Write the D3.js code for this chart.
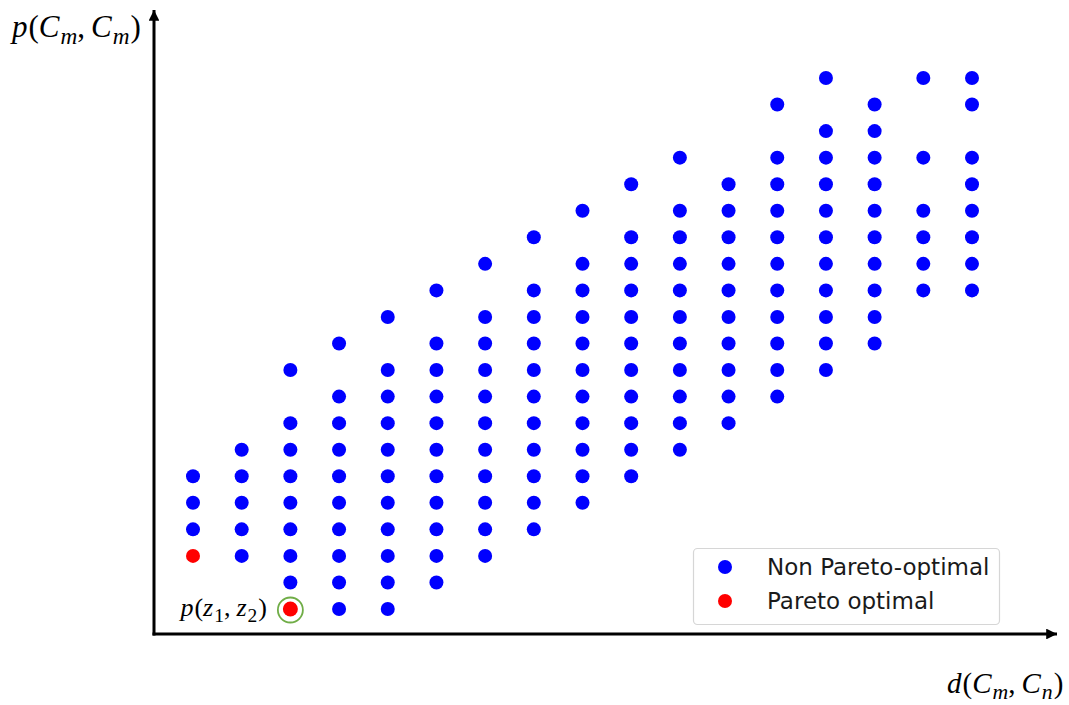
<!DOCTYPE html>
<html>
<head>
<meta charset="utf-8">
<script src="https://cdn.jsdelivr.net/npm/d3@7"></script>
<style>
  html, body { margin: 0; padding: 0; background: #fff; }
  svg { display: block; }
</style>
</head>
<body>
<svg id="chart" width="1069" height="705"></svg>
<script>
// ---- data ----
// column index on the d(Cm,Cn) axis (0..16)
const columns = [0, 1, 2, 3, 4, 5, 6, 7, 8, 9, 10, 11, 12, 13, 14, 15, 16];
// row indices (p(Cm,Cm) level, 0..20) of non Pareto-optimal points in each column
const nonParetoRows = [
  [3, 4, 5],
  [2, 3, 4, 5, 6],
  [1, 2, 3, 4, 5, 6, 7, 9],
  [0, 1, 2, 3, 4, 5, 6, 7, 8, 10],
  [0, 1, 2, 3, 4, 5, 6, 7, 8, 9, 11],
  [1, 2, 3, 4, 5, 6, 7, 8, 9, 10, 12],
  [2, 3, 4, 5, 6, 7, 8, 9, 10, 11, 13],
  [3, 4, 5, 6, 7, 8, 9, 10, 11, 12, 14],
  [4, 5, 6, 7, 8, 9, 10, 11, 12, 13, 15],
  [5, 6, 7, 8, 9, 10, 11, 12, 13, 14, 16],
  [6, 7, 8, 9, 10, 11, 12, 13, 14, 15, 17],
  [7, 8, 9, 10, 11, 12, 13, 14, 15, 16],
  [8, 9, 10, 11, 12, 13, 14, 15, 16, 17, 19],
  [9, 10, 11, 12, 13, 14, 15, 16, 17, 18, 20],
  [10, 11, 12, 13, 14, 15, 16, 17, 18, 19],
  [12, 13, 14, 15, 17, 20],
  [12, 13, 14, 15, 16, 17, 19, 20]
];
// Pareto optimal points: [column, row]
const paretoX = [0, 2];
const paretoY = [2, 0];
const highlighted = [false, true];   // p(z1,z2) marked point
const legendLabels = ["Non Pareto-optimal", "Pareto optimal"];
const colors = ["#0000ff", "#ff0000"];

// ---- build ----
const nonPareto = [];
columns.forEach((c, i) => nonParetoRows[i].forEach(r => nonPareto.push({x: c, y: r})));
const pareto = paretoX.map((x, i) => ({x, y: paretoY[i], hl: highlighted[i]}));

const svg = d3.select("#chart");
const origin = {x: 154, y: 634};

const xScale = d3.scaleLinear().domain([0, 16]).range([193, 972]);
const yScale = d3.scaleLinear().domain([0, 20]).range([609, 78]);

// arrowheads
const defs = svg.append("defs");
defs.append("marker")
  .attr("id", "arrow")
  .attr("viewBox", "0 0 10 10")
  .attr("refX", 10).attr("refY", 5)
  .attr("markerWidth", 4).attr("markerHeight", 3.6)
  .attr("markerUnits", "strokeWidth")
  .attr("orient", "auto")
  .append("path")
  .attr("d", "M0,0 L10,5 L0,10 Z")
  .attr("fill", "#000");

// axes
svg.append("line")
  .attr("x1", origin.x - 1.5).attr("y1", origin.y)
  .attr("x2", 1057).attr("y2", origin.y)
  .attr("stroke", "#000").attr("stroke-width", 3)
  .attr("marker-end", "url(#arrow)");
svg.append("line")
  .attr("x1", origin.x).attr("y1", origin.y + 1.5)
  .attr("x2", origin.x).attr("y2", 10)
  .attr("stroke", "#000").attr("stroke-width", 3)
  .attr("marker-end", "url(#arrow)");

// points
svg.append("g").selectAll("circle")
  .data(nonPareto).join("circle")
  .attr("cx", d => xScale(d.x))
  .attr("cy", d => yScale(d.y))
  .attr("r", 7)
  .attr("fill", colors[0]);

svg.append("g").selectAll("circle")
  .data(pareto).join("circle")
  .attr("cx", d => xScale(d.x))
  .attr("cy", d => yScale(d.y))
  .attr("r", d => d.hl ? 7.5 : 7)
  .attr("fill", colors[1]);

// highlight ring
svg.append("g").selectAll("circle")
  .data(pareto.filter(d => d.hl)).join("circle")
  .attr("cx", d => xScale(d.x))
  .attr("cy", d => yScale(d.y) + 1)
  .attr("r", 12.5)
  .attr("fill", "none")
  .attr("stroke", "#70ad47")
  .attr("stroke-width", 1.8);

// math labels
const mathFont = "'Liberation Serif', 'DejaVu Serif', serif";
function mathLabel(x, y, size, parts) {
  const t = svg.append("text")
    .attr("x", x).attr("y", y)
    .attr("font-family", mathFont)
    .attr("font-size", size)
    .attr("fill", "#000");
  parts.forEach(p => {
    const ts = t.append("tspan").text(p.t);
    if (p.i) ts.attr("font-style", "italic");
    if (p.sub) ts.attr("font-size", size * 0.75).attr("dy", size * 0.22);
    if (p.up) ts.attr("dy", -size * 0.22);
    if (p.dx) ts.attr("dx", p.dx);
  });
  return t;
}
// y axis label p(Cm, Cm)
mathLabel(12, 37, 31, [
  {t: "p", i: true}, {t: "(", dx: 1}, {t: "C", i: true}, {t: "m", i: true, sub: true, dx: 1},
  {t: ",", up: true}, {t: "C", i: true, dx: 6}, {t: "m", i: true, sub: true, dx: 1}, {t: ")", up: true, dx: 1}
]);
// x axis label d(Cm, Cn)
mathLabel(947, 693, 29, [
  {t: "d", i: true}, {t: "(", dx: 1}, {t: "C", i: true}, {t: "m", i: true, sub: true, dx: 1},
  {t: ",", up: true}, {t: "C", i: true, dx: 6}, {t: "n", i: true, sub: true, dx: 1}, {t: ")", up: true, dx: 1}
]);
// point label p(z1, z2)
const hl = pareto.find(d => d.hl);
mathLabel(xScale(hl.x) - 110, yScale(hl.y) + 7, 26, [
  {t: "p", i: true}, {t: "(", dx: 1}, {t: "z", i: true}, {t: "1", sub: true, dx: 1},
  {t: ",", up: true}, {t: "z", i: true, dx: 6}, {t: "2", sub: true, dx: 1}, {t: ")", up: true, dx: 1}
]);

// legend
const leg = svg.append("g");
leg.append("rect")
  .attr("x", 693.5).attr("y", 548.5)
  .attr("width", 306).attr("height", 76)
  .attr("rx", 4)
  .attr("fill", "#fff")
  .attr("stroke", "#d6d6d6")
  .attr("stroke-width", 1.2);
legendLabels.forEach((lab, i) => {
  const cy = 567 + i * 34;
  leg.append("circle").attr("cx", 725).attr("cy", cy).attr("r", 7).attr("fill", colors[i]);
  leg.append("text")
    .attr("x", 767).attr("y", cy + 8)
    .attr("font-family", "'DejaVu Sans', sans-serif")
    .attr("font-size", 23)
    .attr("fill", "#1a1a1a")
    .text(lab);
});
</script>
</body>
</html>
